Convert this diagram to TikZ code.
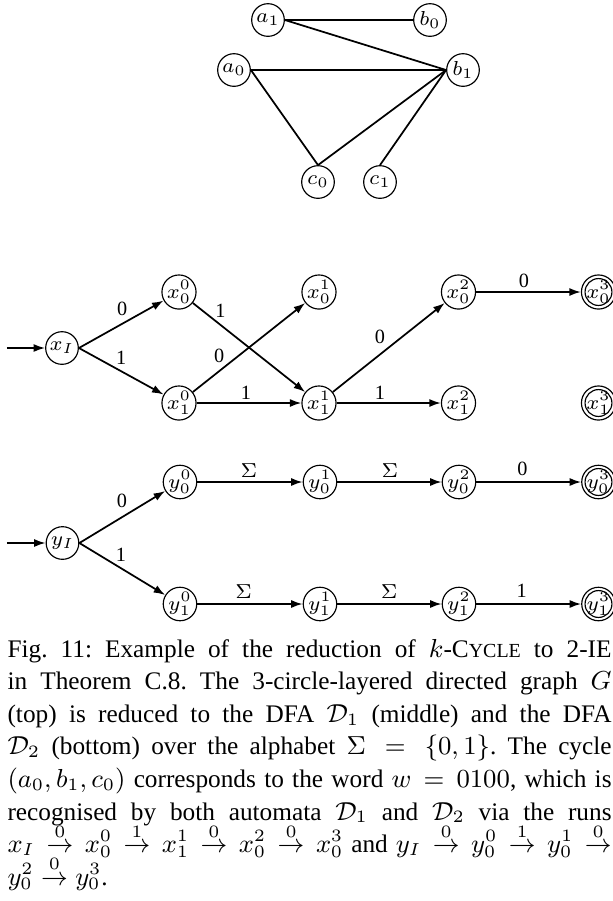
\documentclass[tikz,border=0pt]{standalone}
\usepackage{fontspec}
\setmainfont{Liberation Serif}
\usetikzlibrary{arrows.meta}
\newcommand{\capsz}{\fontsize{8.75}{11.3}\selectfont\frenchspacing}
\newcommand{\fakesc}[1]{{\fontsize{6.9}{9}\selectfont #1}}
\newcommand{\lto}[1]{\stackrel{#1}{\to}}
\begin{document}
\begin{tikzpicture}[x=0.346pt,y=-0.346pt,
  st/.style={circle,draw,line width=0.4pt,minimum size=11.3pt,inner sep=0pt,
    font=\fontsize{7.5}{8}\selectfont},
  acc/.style={st,path picture={\draw[line width=0.4pt] (path picture bounding box.center) circle (4.65pt);}},
  tr/.style={-{Latex[length=4pt,width=2.8pt]},line width=0.6pt},
  ln/.style={line width=0.6pt},
  lab/.style={font=\fontsize{7}{8}\selectfont,inner sep=0pt,anchor=center},
  capl/.style={anchor=base west,inner sep=0pt,font=\capsz}]
\useasboundingbox (0,0) rectangle (613,901);
\clip (0,0) rectangle (613,901);

% ---------- top graph ----------
\node[st] (a1) at (268,20) {$a_1$};
\node[st] (b0) at (430,20) {$b_0$};
\node[st] (a0) at (234,70) {$a_0$};
\node[st] (b1) at (463,70) {$b_1$};
\node[st] (c0) at (318,182) {$c_0$};
\node[st] (c1) at (380,182) {$c_1$};
\draw[ln] (a1.east) -- (b0.west);
\draw[ln] (a1.east) -- (b1.west);
\draw[ln] (a0.east) -- (b1.west);
\draw[ln] (a0.east) -- (c0.north);
\draw[ln] (c0.north) -- (b1.west);
\draw[ln] (c1.north) -- (b1.west);

% ---------- DFA D1 ----------
\node[st] (xI) at (62,348) {$x_I$};
\node[st] (x00) at (179,292) {$x_0^0$};
\node[st] (x10) at (179,403) {$x_1^0$};
\node[st] (x01) at (319,292) {$x_0^1$};
\node[st] (x11) at (319,403) {$x_1^1$};
\node[st] (x02) at (458.5,292) {$x_0^2$};
\node[st] (x12) at (458.5,403) {$x_1^2$};
\node[acc] (x03) at (598.5,292) {$x_0^3$};
\node[acc] (x13) at (598.5,403) {$x_1^3$};
\coordinate (xin) at (7,348);
\draw[tr] (xin) -- (xI.west);
\draw[tr] (xI.east) -- node[lab,shift={(0.8,-15.7)}] {0} (x00);
\draw[tr] (xI.east) -- node[lab,shift={(0,-13.2)}] {1} (x10);
\draw[tr] (x00) -- node[lab,pos=0.25,shift={(-0.4,-14.8)}] {1} (x11);
\draw[tr] (x10) -- node[lab,pos=0.25,shift={(-1.7,-13.5)}] {0} (x01);
\draw[tr] (x10) -- node[lab,shift={(-3,-9.7)}] {1} (x11);
\draw[tr] (x11) -- node[lab,shift={(-8.7,-10.8)}] {0} (x02);
\draw[tr] (x11) -- node[lab,shift={(-8.7,-9.7)}] {1} (x12);
\draw[tr] (x02) -- node[lab,shift={(-4.5,-11.3)}] {0} (x03);

% ---------- DFA D2 ----------
\node[st] (yI) at (62.5,543) {$y_I$};
\node[st] (y00) at (180,482) {$y_0^0$};
\node[st] (y01) at (320,482) {$y_0^1$};
\node[st] (y02) at (459,482) {$y_0^2$};
\node[acc] (y03) at (598.5,482) {$y_0^3$};
\node[st] (y10) at (180,604) {$y_1^0$};
\node[st] (y11) at (320,604) {$y_1^1$};
\node[st] (y12) at (459,604) {$y_1^2$};
\node[acc] (y13) at (598.5,604) {$y_1^3$};
\coordinate (yin) at (7,543);
\draw[tr] (yin) -- (yI.west);
\draw[tr] (yI.east) -- node[lab,shift={(-0.4,-16.4)}] {0} (y00);
\draw[tr] (yI.east) -- node[lab,shift={(-1.4,-14.5)}] {1} (y10);
\draw[tr] (y00) -- node[lab,shift={(-1.2,-11)}] {$\Sigma$} (y01);
\draw[tr] (y01) -- node[lab,shift={(0.5,-11)}] {$\Sigma$} (y02);
\draw[tr] (y02) -- node[lab,shift={(-6.3,-12.7)}] {0} (y03);
\draw[tr] (y10) -- node[lab,shift={(-6.4,-12)}] {$\Sigma$} (y11);
\draw[tr] (y11) -- node[lab,shift={(-0.3,-12)}] {$\Sigma$} (y12);
\draw[tr] (y12) -- node[lab,shift={(-7,-13)}] {1} (y13);

% ---------- caption ----------
\node[capl] (cap1) at (7,657) {\hbox to 209pt{Fig.\ 11: Example of the reduction of $k$-C\fakesc{YCLE} to 2-IE}};
\node[capl] (cap2) at (7,689.6) {\hbox to 209pt{in Theorem C.8. The 3-circle-layered directed graph $G$}};
\node[capl] (cap3) at (7,722.2) {\hbox to 209pt{(top) is reduced to the DFA $\mathcal{D}_1$ (middle) and the DFA}};
\node[capl] (cap4) at (7,754.8) {\hbox to 209pt{$\mathcal{D}_2$ (bottom) over the alphabet $\Sigma = \{0, 1\}$. The cycle}};
\node[capl] (cap5) at (7,787.4) {\hbox to 209pt{$(a_0, b_1, c_0)$ corresponds to the word $w = 0100$, which is}};
\node[capl] (cap6) at (7,820) {\hbox to 209pt{recognised by both automata $\mathcal{D}_1$ and $\mathcal{D}_2$ via the runs}};
\node[capl] (cap7) at (7,852.6) {\hbox to 209pt{$x_I \lto{0} x_0^0 \lto{1} x_1^1 \lto{0} x_0^2 \lto{0} x_0^3$ and $y_I \lto{0} y_0^0 \lto{1} y_0^1 \lto{0}$}};
\node[capl] (cap8) at (7,885.2) {$y_0^2 \lto{0} y_0^3$.};
\end{tikzpicture}
\end{document}
